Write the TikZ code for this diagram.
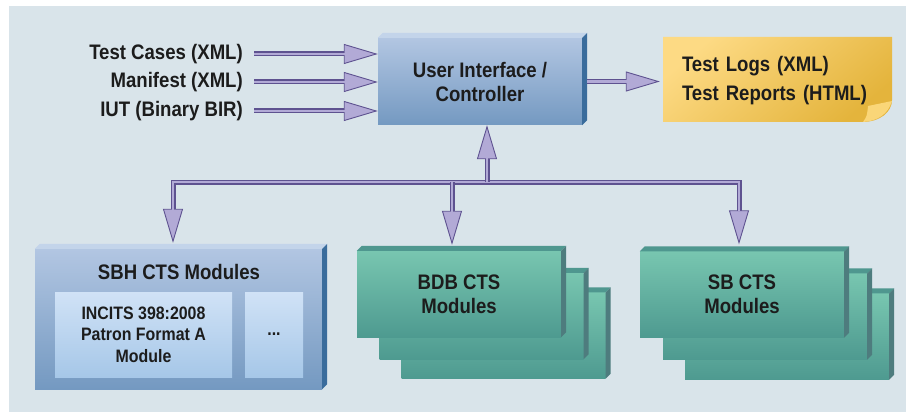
\documentclass[tikz,border=0pt]{standalone}
\usepackage{fontspec}
\setmainfont{Liberation Sans}[FakeStretch=0.885]
\usetikzlibrary{arrows.meta}
\definecolor{bg}{HTML}{D9E4EA}
\definecolor{arrdark}{HTML}{5E5290}
\definecolor{arrfill}{HTML}{B2AAD6}
\definecolor{uitop}{HTML}{B2C6E2}
\definecolor{uibot}{HTML}{7499C1}
\definecolor{uiside}{HTML}{3A6C9C}
\definecolor{uibevel}{HTML}{C3D4EA}
\definecolor{intop}{HTML}{D0E2F6}
\definecolor{inbot}{HTML}{A6C7E8}
\definecolor{grtop}{HTML}{78C6B0}
\definecolor{grbot}{HTML}{4E9A90}
\definecolor{grside}{HTML}{4E7C7E}
\definecolor{grbevel}{HTML}{4F978F}
\definecolor{notelight}{HTML}{FDDA84}
\definecolor{notedark}{HTML}{E4B43C}
\definecolor{notefold}{HTML}{FAD678}
\definecolor{txt}{HTML}{1C1C1C}
\newcommand\cubesides[3]{%
  \fill[#3] (#1.north west) -- ++(5,-5) -- ([shift={(5,-5)}]#1.north east) -- (#1.north east) -- cycle;
  \fill[#2] (#1.north east) -- ++(5,-5) -- ([shift={(5,-5)}]#1.south east) -- (#1.south east) -- cycle;}
\tikzset{
  lbl/.style={font=\fontsize{21}{24}\selectfont\bfseries, text=txt, inner sep=0pt, align=center},
  small/.style={font=\fontsize{18}{21.5}\selectfont\bfseries, text=txt, inner sep=0pt, align=center},
  bluebox/.style={top color=uitop, bottom color=uibot, inner sep=0pt},
  innerbox/.style={top color=intop, bottom color=inbot, inner sep=0pt},
  greenbox/.style={top color=grtop, bottom color=grbot, inner sep=0pt, minimum width=204pt, minimum height=86pt},
  flow/.style={draw=arrdark, line width=5pt, line join=miter,
    -{Triangle[length=34pt, width=20pt, line width=0.9pt, fill=arrfill]},
    postaction={draw=arrfill, line width=2.6pt, arrows=-, shorten >=33pt}}
}
\begin{document}
\begin{tikzpicture}[x=1pt,y=-1pt]
\useasboundingbox (0,0) rectangle (906,412);
\fill[bg] (9,6) rectangle (906,412);

% User interface box
\node[bluebox, lbl, minimum width=204pt, minimum height=87pt] (ui) at (480,81.5) {User Interface /\\Controller};
\cubesides{ui}{uiside}{uibevel}

% input labels
\node[lbl, anchor=east] (tc) at (243,54) {Test Cases (XML)};
\node[lbl, anchor=east] (mf) at (243,82) {Manifest (XML)};
\node[lbl, anchor=east] (iut) at (243,111) {IUT (Binary BIR)};

% output note
\shade[top color=notelight, bottom color=notedark, shading angle=40]
  (663,37) -- (892,37) -- (892,100) .. controls (892,112) and (880,122) .. (862,122) -- (663,122) -- cycle;
\fill[notefold] (868,106) -- (892,101) .. controls (888,114) and (878,121) .. (863,122) .. controls (867,116) .. (868,106);
\node[lbl, minimum width=229pt, minimum height=85pt, text width=191pt, inner xsep=19pt, align=left,
  font=\fontsize{21}{29}\selectfont\bfseries] (note) at (777.5,80.5) {Test Logs (XML)\\Test Reports (HTML)};

% SBH box
\node[bluebox, minimum width=287pt, minimum height=140pt] (sbh) at (178.5,319) {};
\cubesides{sbh}{uiside}{uibevel}
\node[lbl] (sbhtitle) at (179,272) {SBH CTS Modules};
\node[innerbox, small, minimum width=177pt, minimum height=85pt] (incits) at (143.5,334.5) {INCITS 398:2008\\Patron Format A\\Module};
\node[innerbox, small, minimum width=58pt, minimum height=85pt] (more) at (274,334.5) {...};

% BDB stack
\node[greenbox] (bdb3) at (503.5,335.5) {};
\cubesides{bdb3}{grside}{grbevel}
\node[greenbox] (bdb2) at (481.5,316) {};
\cubesides{bdb2}{grside}{grbevel}
\node[greenbox, lbl] (bdb1) at (459,294) {BDB CTS\\Modules};
\cubesides{bdb1}{grside}{grbevel}

% SB stack
\node[greenbox] (sb3) at (787,336.5) {};
\cubesides{sb3}{grside}{grbevel}
\node[greenbox] (sb2) at (765,316.5) {};
\cubesides{sb2}{grside}{grbevel}
\node[greenbox, lbl] (sb1) at (742,294.5) {SB CTS\\Modules};
\cubesides{sb1}{grside}{grbevel}

% connectors
\draw[flow] ([xshift=11pt]tc.east) -- (tc.east -| ui.west);
\draw[flow] ([xshift=11pt]mf.east) -- (mf.east -| ui.west);
\draw[flow] ([xshift=11pt]iut.east) -- (iut.east -| ui.west);
\draw[flow] ([xshift=5pt]ui.east) -- ([xshift=-3pt]note.west |- ui.east);

\coordinate (j) at (487,182);
\coordinate (sbhin) at ([shift={(-5.5,-6)}]sbh.north);
\coordinate (bdbin) at ([shift={(-7,-6)}]bdb1.north);
\coordinate (sbin) at ([shift={(-3,-7)}]sb1.north);
\draw[flow] (j) -| (sbhin);
\draw[flow] (j) -| (sbin);
\draw[flow] (bdbin |- j) -- (bdbin);
\draw[flow] (j) -- (ui.south -| j);
\end{tikzpicture}
\end{document}
